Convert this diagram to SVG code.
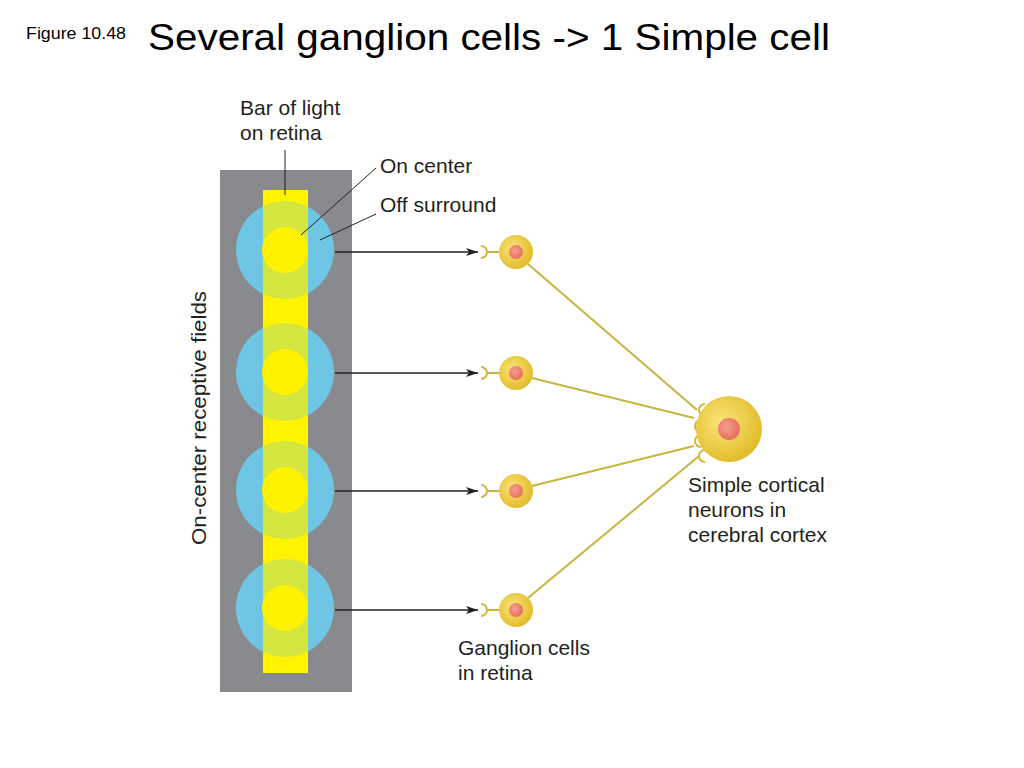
<svg xmlns="http://www.w3.org/2000/svg" width="1024" height="768" viewBox="0 0 1024 768">
<defs>
<style>
.t{font-family:"Liberation Sans",Arial,sans-serif;fill:#000}
.l{font-family:"Liberation Sans",Arial,sans-serif;fill:#231f20;font-size:21px}
.ax{stroke:#231f20;stroke-width:1.3;fill:none}
.ax2{stroke:#231f20;stroke-width:1;fill:none}
.ln{stroke:#c8b440;stroke-width:2;fill:none}
.cup{stroke:#d2b83a;stroke-width:2;fill:none}
</style>
<radialGradient id="g" cx="0.4" cy="0.4" r="0.6"><stop offset="0" stop-color="#fbe47a"/><stop offset="1" stop-color="#e2bd2c"/></radialGradient>
<radialGradient id="r" cx="0.4" cy="0.4" r="0.6"><stop offset="0" stop-color="#f7a090"/><stop offset="1" stop-color="#e6705e"/></radialGradient>
<marker id="a" markerWidth="12" markerHeight="8" refX="12" refY="4" orient="auto" markerUnits="userSpaceOnUse"><path d="M0,0 L12,4 L0,8 L3,4z" fill="#231f20"/></marker>
</defs>
<rect width="1024" height="768" fill="#fff"/>
<text class="t" x="26" y="39" font-size="16" textLength="100" lengthAdjust="spacingAndGlyphs">Figure 10.48</text>
<text class="t" x="148" y="50" font-size="37" textLength="682" lengthAdjust="spacingAndGlyphs">Several ganglion cells -&gt; 1 Simple cell</text>
<g id="retina">
<rect x="220" y="170" width="132" height="522" fill="#898a8d"/>
<rect x="263" y="190" width="45" height="483" fill="#fff200"/>
<g fill="#6ec6e4">
<circle cx="285" cy="250" r="49"/><circle cx="285" cy="372" r="49"/><circle cx="285" cy="490" r="49"/><circle cx="285" cy="608" r="49"/>
</g>
<rect x="263" y="190" width="45" height="483" fill="#fff200" opacity="0.72"/>
<g fill="#fff200">
<circle cx="285" cy="250" r="23"/><circle cx="285" cy="372" r="23"/><circle cx="285" cy="490" r="23"/><circle cx="285" cy="608" r="23"/>
</g>
</g>
<g id="labels">
<text class="l" x="240" y="115">Bar of light</text>
<text class="l" x="240" y="140">on retina</text>
<line class="ax2" x1="285" y1="150" x2="285" y2="195"/>
<text class="l" x="380" y="173">On center</text>
<line class="ax2" x1="376" y1="168" x2="301" y2="235"/>
<text class="l" x="380" y="212">Off surround</text>
<line class="ax2" x1="376" y1="214" x2="320" y2="240"/>
<text class="l" transform="translate(206,545) rotate(-90)" textLength="254" lengthAdjust="spacingAndGlyphs">On-center receptive fields</text>
<text class="l" x="688" y="492">Simple cortical</text>
<text class="l" x="688" y="517">neurons in</text>
<text class="l" x="688" y="542">cerebral cortex</text>
<text class="l" x="458" y="655">Ganglion cells</text>
<text class="l" x="458" y="680">in retina</text>
</g>
<g id="connectors">
<line class="ax" x1="335" y1="252" x2="478" y2="252" marker-end="url(#a)"/>
<line class="ax" x1="335" y1="373" x2="478" y2="373" marker-end="url(#a)"/>
<line class="ax" x1="335" y1="491" x2="478" y2="491" marker-end="url(#a)"/>
<line class="ax" x1="335" y1="610" x2="478" y2="610" marker-end="url(#a)"/>
<line class="ln" x1="487" y1="252" x2="499" y2="252"/>
<line class="ln" x1="487" y1="373" x2="499" y2="373"/>
<line class="ln" x1="487" y1="491" x2="499" y2="491"/>
<line class="ln" x1="487" y1="610" x2="499" y2="610"/>
<line class="ln" x1="528" y1="264" x2="697" y2="410"/>
<line class="ln" x1="532" y1="378" x2="694" y2="418"/>
<line class="ln" x1="532" y1="486" x2="694" y2="446"/>
<line class="ln" x1="528" y1="598" x2="699" y2="456"/>
</g>
<g id="cups" class="cup">
<path d="M481,246 a6,6 0 0 1 0,12"/><path d="M481,367 a6,6 0 0 1 0,12"/>
<path d="M481,485 a6,6 0 0 1 0,12"/><path d="M481,604 a6,6 0 0 1 0,12"/>
<path d="M705,404 a6,6 0 0 0 0,12"/><path d="M701,420 a6,6 0 0 0 0,12"/>
<path d="M701,435 a6,6 0 0 0 0,12"/><path d="M705,450 a6,6 0 0 0 0,12"/>
</g>
<g id="ganglion1"><circle cx="516" cy="252" r="17" fill="url(#g)"/><circle cx="516" cy="252" r="7" fill="url(#r)"/></g>
<g id="ganglion2"><circle cx="516" cy="373" r="17" fill="url(#g)"/><circle cx="516" cy="373" r="7" fill="url(#r)"/></g>
<g id="ganglion3"><circle cx="516" cy="491" r="17" fill="url(#g)"/><circle cx="516" cy="491" r="7" fill="url(#r)"/></g>
<g id="ganglion4"><circle cx="516" cy="610" r="17" fill="url(#g)"/><circle cx="516" cy="610" r="7" fill="url(#r)"/></g>
<g id="simple"><circle cx="729" cy="429" r="33" fill="url(#g)"/><circle cx="729" cy="429" r="11" fill="url(#r)"/></g>
</svg>
